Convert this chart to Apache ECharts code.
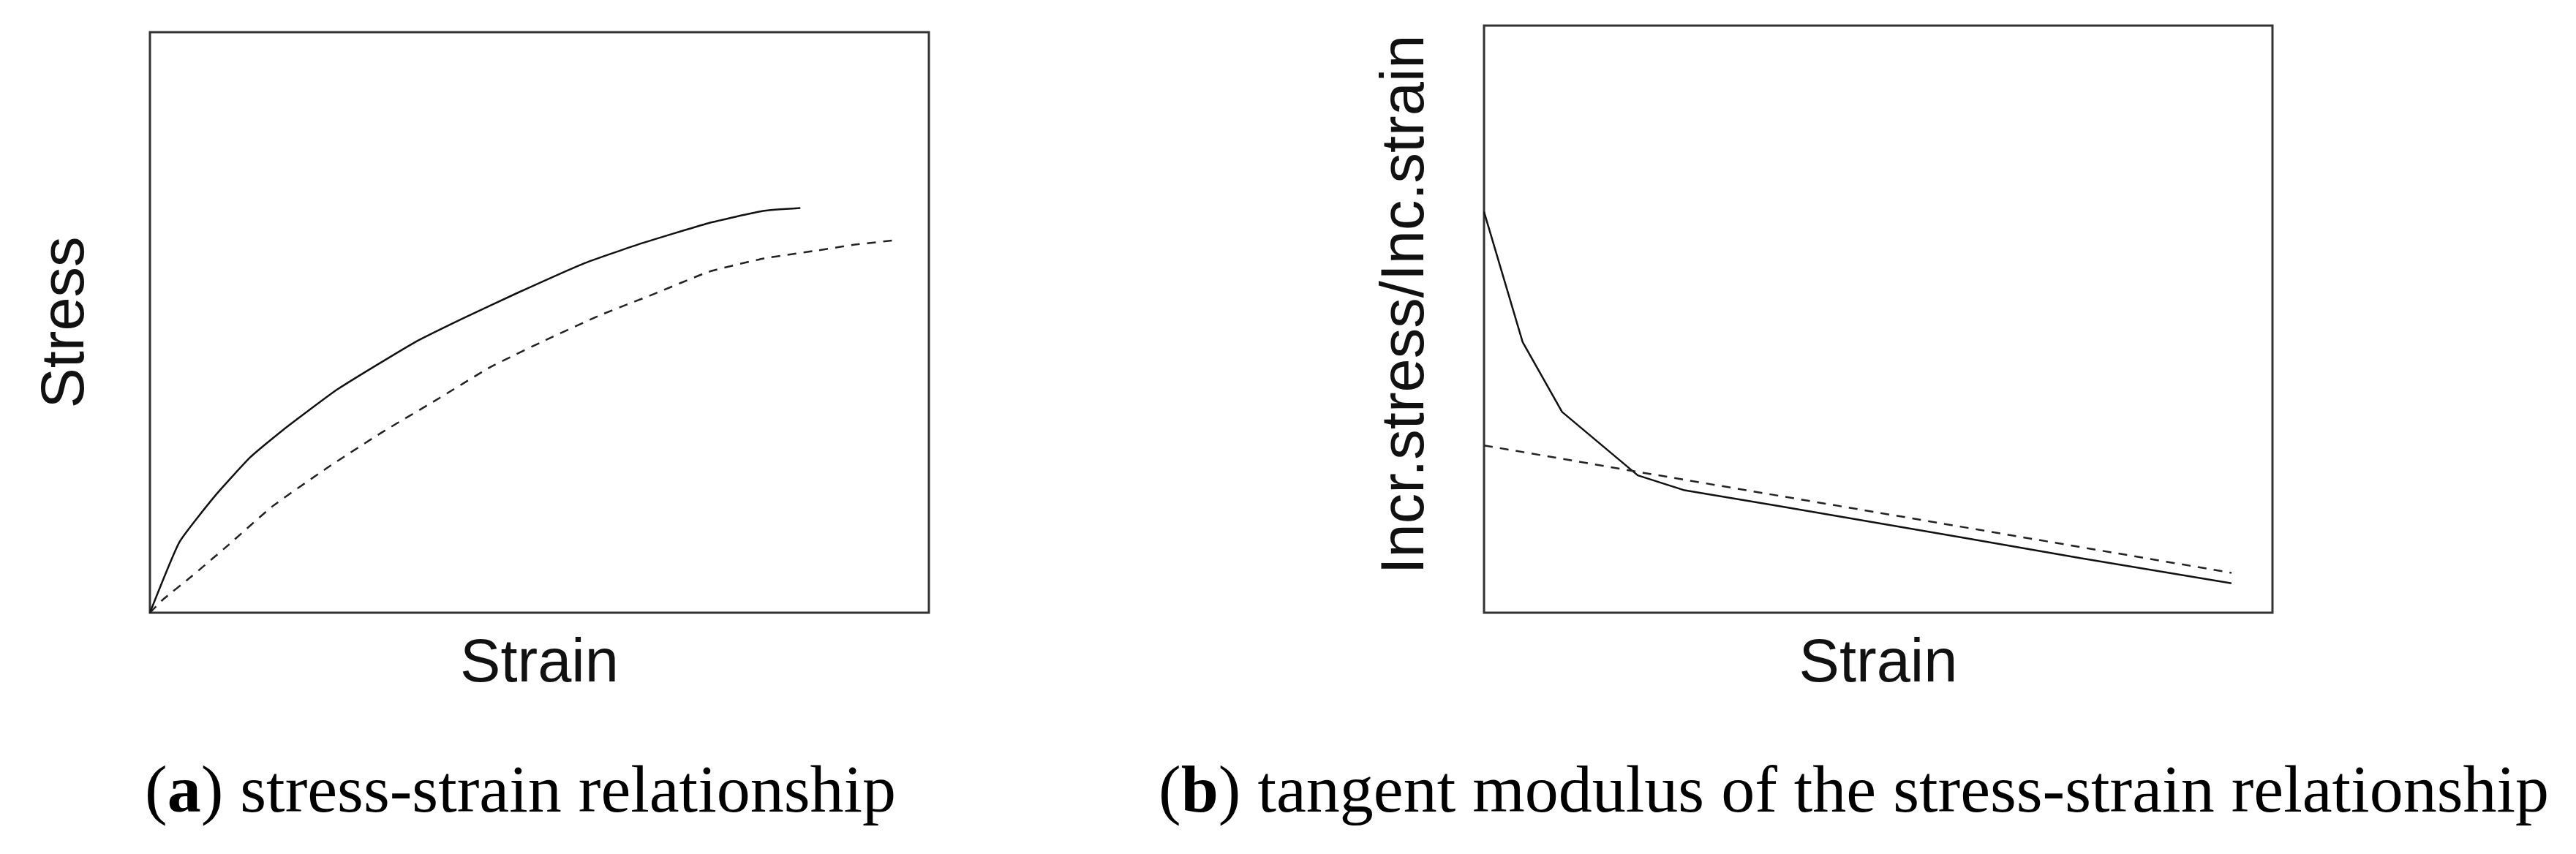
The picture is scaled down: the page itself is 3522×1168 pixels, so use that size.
<!DOCTYPE html>
<html>
<head>
<meta charset="utf-8">
<script src="https://cdn.jsdelivr.net/npm/echarts@6/dist/echarts.min.js"></script>
<style>
  html, body { margin: 0; padding: 0; background: #fff; }
  #chart { width: 3522px; height: 1168px; }
</style>
</head>
<body>
<div id="chart"></div>
<script>
// (a) stress-strain, normalised to the plot box (0-100)
const strainA = [0, 3.8, 8.4, 12.9, 17.1, 24.1, 33.9, 40.2, 47.2, 55.6, 62.6, 71.7, 78.7, 83.5];
const stressA = [0, 12.2, 20.2, 26.8, 31.5, 38.5, 46.5, 50.7, 55.1, 60.1, 63.4, 67.1, 69.2, 69.7];
const strainA2 = [0, 1.7, 5.2, 10.1, 15.7, 22.7, 29.7, 36.7, 43.7, 50.7, 57.7, 64.7, 71.7, 78.7, 85.7, 90.5, 96.0];
const stressA2 = [0, 2.3, 6.1, 11.7, 18.3, 24.9, 31.0, 36.6, 42.3, 46.9, 51.2, 54.9, 58.7, 61.0, 62.4, 63.4, 64.2];

// (b) tangent modulus
const strainB = [0, 4.9, 9.9, 19.5, 25.3, 37.2, 60.3, 75.6, 94.8];
const modulusB = [68.3, 46.1, 34.2, 23.4, 20.9, 18.2, 12.9, 9.3, 5.0];
const strainB2 = [0, 19.5, 52.4, 94.8];
const modulusB2 = [28.5, 24.0, 16.5, 6.8];

const captionA = '({b|a}) stress-strain relationship';
const captionB = '({b|b}) tangent modulus of the stress-strain relationship';

const pairs = (xs, ys) => xs.map((x, i) => [x, ys[i]]);

const sans = 'Liberation Sans, Arial, sans-serif';
const serif = 'Liberation Serif, Times New Roman, serif';
const nameStyle = { fontFamily: sans, fontSize: 83, color: '#111' };

const hiddenAxis = (name, gap, extra) => Object.assign({
  type: 'value',
  min: 0,
  max: 100,
  name: name,
  nameLocation: 'middle',
  nameGap: gap,
  nameTextStyle: nameStyle,
  axisLine: { show: false },
  axisTick: { show: false },
  axisLabel: { show: false },
  splitLine: { show: false }
}, extra || {});

const lineSeries = (xi, data, dashed, smooth) => ({
  type: 'line',
  xAxisIndex: xi,
  yAxisIndex: xi,
  data: data,
  showSymbol: false,
  smooth: smooth,
  silent: true,
  lineStyle: {
    color: dashed ? '#222' : '#111',
    width: 2.5,
    type: dashed ? [12, 10] : 'solid'
  }
});

const chart = echarts.init(document.getElementById('chart'));
chart.setOption({
  backgroundColor: '#fff',
  animation: false,
  grid: [
    { left: 205, top: 44, width: 1065, height: 794, show: true, borderColor: '#333', borderWidth: 3 },
    { left: 2029, top: 35, width: 1078, height: 803, show: true, borderColor: '#333', borderWidth: 3 }
  ],
  xAxis: [
    hiddenAxis('Strain', 30, { gridIndex: 0 }),
    hiddenAxis('Strain', 30, { gridIndex: 1 })
  ],
  yAxis: [
    hiddenAxis('Stress', 72, { gridIndex: 0 }),
    hiddenAxis('Incr.stress/Inc.strain', 64, {
      gridIndex: 1,
      nameTextStyle: Object.assign({}, nameStyle, { padding: [0, 0, 0, 40] })
    })
  ],
  series: [
    lineSeries(0, pairs(strainA, stressA), false, 0.15),
    lineSeries(0, pairs(strainA2, stressA2), true, 0.15),
    lineSeries(1, pairs(strainB, modulusB), false, false),
    lineSeries(1, pairs(strainB2, modulusB2), true, false)
  ],
  graphic: [
    {
      type: 'text',
      left: 198,
      top: 1040,
      style: {
        text: captionA,
        font: '92px ' + serif,
        fill: '#000',
        rich: { b: { fontFamily: serif, fontSize: 92, fontWeight: 'bold', fill: '#000' } }
      }
    },
    {
      type: 'text',
      left: 1584,
      top: 1040,
      style: {
        text: captionB,
        font: '92px ' + serif,
        fill: '#000',
        rich: { b: { fontFamily: serif, fontSize: 92, fontWeight: 'bold', fill: '#000' } }
      }
    }
  ]
});
</script>
</body>
</html>
